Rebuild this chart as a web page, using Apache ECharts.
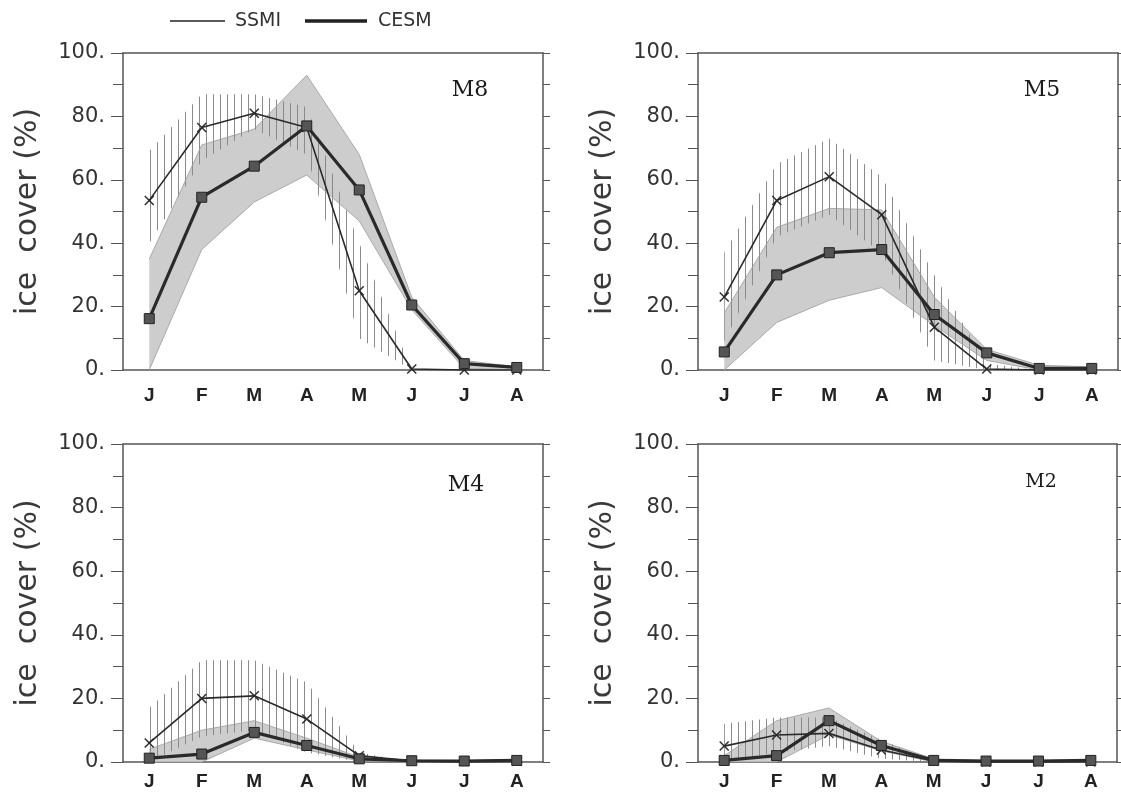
<!DOCTYPE html>
<html>
<head>
<meta charset="utf-8">
<style>
  html, body { margin: 0; padding: 0; background: #fff; }
  #chart { width: 1121px; height: 794px; }
</style>
<script src="https://cdn.jsdelivr.net/npm/echarts@6/dist/echarts.min.js"></script>
</head>
<body>
<div id="chart"></div>
<script>
// months Jan..Aug
var months = ["J", "F", "M", "A", "M", "J", "J", "A"];
var panelNames = ["M8", "M5", "M4", "M2"];

// M8
var m8Ssmi = [53.5, 76.5, 81, 76.5, 25, 0.3, 0, 0];
var m8Cesm = [16.2, 54.5, 64.3, 77, 56.8, 20.5, 2, 0.8];
var m8BandUp = [35, 71, 76, 93, 68, 23, 3, 1];
var m8BandLo = [0, 38, 53, 61.5, 47, 19, 0.5, 0];
var m8HatchUp = [69, 87, 87, 83, 40, 0, 0, 0];
var m8HatchLo = [40, 66, 76, 68, 10, 0, 0, 0];

// M5
var m5Ssmi = [23, 53.5, 61, 49, 13.5, 0.3, 0, 0];
var m5Cesm = [5.7, 30, 37, 38, 17.5, 5.4, 0.5, 0.5];
var m5BandUp = [18, 45, 51, 50.5, 23, 6.5, 1.5, 1];
var m5BandLo = [0, 15, 22, 26, 14, 3, 0, 0];
var m5HatchUp = [37, 65, 73, 61, 30, 2, 0, 0];
var m5HatchLo = [9, 42, 49, 37, 3, 0, 0, 0];

// M4
var m4Ssmi = [6, 20, 20.8, 13.5, 2, 0.3, 0.2, 0.2];
var m4Cesm = [1.2, 2.5, 9.3, 5.2, 1, 0.4, 0.3, 0.5];
var m4BandUp = [4, 10, 13, 7.5, 1.5, 0.6, 0.5, 0.6];
var m4BandLo = [0, 0, 7.5, 3.8, 0.3, 0, 0, 0];
var m4HatchUp = [17, 32, 32, 25, 3, 0, 0, 0];
var m4HatchLo = [0, 8, 10, 3, 0, 0, 0, 0];

// M2
var m2Ssmi = [5, 8.5, 9, 3.8, 0.3, 0, 0, 0];
var m2Cesm = [0.5, 2, 13, 5.2, 0.5, 0.3, 0.3, 0.5];
var m2BandUp = [2, 13, 17, 6.5, 1, 0.5, 0.5, 0.6];
var m2BandLo = [0, 0, 8.5, 3.5, 0, 0, 0, 0];
var m2HatchUp = [12, 14, 14, 7, 0, 0, 0, 0];
var m2HatchLo = [0, 3, 5, 1, 0, 0, 0, 0];

var ssmiData = [m8Ssmi, m5Ssmi, m4Ssmi, m2Ssmi];
var cesmData = [m8Cesm, m5Cesm, m4Cesm, m2Cesm];
var bandUp = [m8BandUp, m5BandUp, m4BandUp, m2BandUp];
var bandLo = [m8BandLo, m5BandLo, m4BandLo, m2BandLo];
var hatchUp = [m8HatchUp, m5HatchUp, m4HatchUp, m2HatchUp];
var hatchLo = [m8HatchLo, m5HatchLo, m4HatchLo, m2HatchLo];

var grids = [
  { left: 123, top: 53, width: 420, height: 317 },
  { left: 698, top: 53, width: 420, height: 317 },
  { left: 123, top: 444, width: 420, height: 318 },
  { left: 698, top: 444, width: 419, height: 318 }
];
var labelMargin = [16, 16, 10, 10];

var frame = "#555";
var sans = "DejaVu Sans";
var xMark = "path://M0,1L1,0L5,4L9,0L10,1L6,5L10,9L9,10L5,6L1,10L0,9L4,5Z";

function hatchPattern() {
  var c = document.createElement("canvas");
  c.width = 7;
  c.height = 8;
  var ctx = c.getContext("2d");
  ctx.fillStyle = "#8a8a8a";
  ctx.fillRect(3, 0, 1, 8);
  return c;
}
var hatch = hatchPattern();

function diff(up, lo) {
  return up.map(function (v, i) { return Math.max(0, v - lo[i]); });
}

var xAxes = [], yAxes = [], series = [];

grids.forEach(function (g, i) {
  // bottom axis with month labels
  xAxes.push({
    type: "category", gridIndex: i, data: months, boundaryGap: true,
    axisLine: { onZero: false, lineStyle: { color: frame, width: 1.5 } },
    axisTick: { length: 5, lineStyle: { color: frame } },
    axisLabel: { margin: labelMargin[i], color: "#222", fontSize: 19, fontWeight: "bold", fontFamily: "Liberation Sans" },
    splitLine: { show: false }
  });
  // top frame
  xAxes.push({
    type: "category", gridIndex: i, data: months, boundaryGap: true, position: "top",
    axisLine: { onZero: false, lineStyle: { color: frame, width: 1.5 } },
    axisTick: { length: 7, lineStyle: { color: frame } },
    axisLabel: { show: false },
    splitLine: { show: false }
  });
  yAxes.push({
    type: "value", gridIndex: i, min: 0, max: 100, interval: 20,
    name: "ice  cover (%)", nameLocation: "middle", nameRotate: 90, nameGap: 80,
    nameTextStyle: { fontSize: 30, color: "#3a3a3a", fontFamily: sans },
    axisLine: { show: true, onZero: false, lineStyle: { color: frame, width: 1.5 } },
    axisTick: { show: true, length: 12, lineStyle: { color: frame } },
    minorTick: { show: true, splitNumber: 2, length: 10, lineStyle: { color: frame } },
    axisLabel: {
      margin: 18, color: "#333", fontSize: 21, fontFamily: sans,
      formatter: function (v) { return v + "."; }
    },
    splitLine: { show: false }
  });
  // right frame
  yAxes.push({
    type: "value", gridIndex: i, min: 0, max: 100, interval: 20, position: "right",
    axisLine: { show: true, onZero: false, lineStyle: { color: frame, width: 1.5 } },
    axisTick: { show: true, length: 7, lineStyle: { color: frame } },
    minorTick: { show: true, splitNumber: 2, length: 7, lineStyle: { color: frame } },
    axisLabel: { show: false },
    splitLine: { show: false }
  });

  var xi = i * 2, yi = i * 2;
  // CESM spread (gray band)
  series.push({
    type: "line", xAxisIndex: xi, yAxisIndex: yi, stack: "band" + i,
    data: bandLo[i], symbol: "none",
    lineStyle: { color: "#9a9a9a", width: 0.8 }
  });
  series.push({
    type: "line", xAxisIndex: xi, yAxisIndex: yi, stack: "band" + i,
    data: diff(bandUp[i], bandLo[i]), symbol: "none",
    lineStyle: { color: "#9a9a9a", width: 0.8 },
    areaStyle: { color: "#cdcdcd", opacity: 1 }
  });
  // SSMI spread (vertical hatching)
  series.push({
    type: "line", xAxisIndex: xi, yAxisIndex: yi, stack: "hatch" + i,
    data: hatchLo[i], symbol: "none", lineStyle: { width: 0 }
  });
  series.push({
    type: "line", xAxisIndex: xi, yAxisIndex: yi, stack: "hatch" + i,
    data: diff(hatchUp[i], hatchLo[i]), symbol: "none", lineStyle: { width: 0 },
    areaStyle: { color: { image: hatch, repeat: "repeat" }, opacity: 1 }
  });
  series.push({
    name: "SSMI", type: "line", xAxisIndex: xi, yAxisIndex: yi,
    data: ssmiData[i], symbol: xMark, symbolSize: 10,
    lineStyle: { color: "#2a2a2a", width: 1.6 },
    itemStyle: { color: "#2a2a2a" }
  });
  series.push({
    name: "CESM", type: "line", xAxisIndex: xi, yAxisIndex: yi,
    data: cesmData[i], symbol: "rect", symbolSize: 10,
    lineStyle: { color: "#2a2a2a", width: 3.2 },
    itemStyle: { color: "#555", borderColor: "#222", borderWidth: 1 }
  });
});

var labelPos = [[470, 90, 22], [1042, 90, 22], [466, 485, 22], [1041, 482, 19]];
var graphic = [
  { type: "line", shape: { x1: 170, y1: 21, x2: 225, y2: 21 }, style: { stroke: "#222", lineWidth: 1.5 } },
  { type: "text", x: 235, y: 21, style: { text: "SSMI", fontSize: 19, fontFamily: sans, fill: "#333", verticalAlign: "middle" } },
  { type: "line", shape: { x1: 305, y1: 21, x2: 367, y2: 21 }, style: { stroke: "#222", lineWidth: 3.5 } },
  { type: "text", x: 378, y: 21, style: { text: "CESM", fontSize: 19, fontFamily: sans, fill: "#333", verticalAlign: "middle" } }
];
panelNames.forEach(function (n, i) {
  graphic.push({
    type: "text", x: labelPos[i][0], y: labelPos[i][1],
    style: { text: n, fontSize: labelPos[i][2], fontFamily: "DejaVu Serif", fill: "#1a1a1a", align: "center", verticalAlign: "middle" }
  });
});

var chart = echarts.init(document.getElementById("chart"));
chart.setOption({
  animation: false,
  backgroundColor: "#fff",
  grid: grids,
  xAxis: xAxes,
  yAxis: yAxes,
  series: series,
  graphic: graphic
});
</script>
</body>
</html>
